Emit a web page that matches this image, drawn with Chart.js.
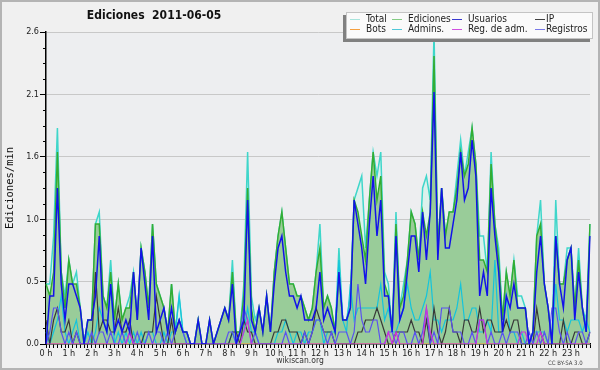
<!DOCTYPE html>
<html><head><meta charset="utf-8">
<script src="https://cdn.jsdelivr.net/npm/chart.js@4.4.1/dist/chart.umd.min.js"></script>
<style>
html,body{margin:0;padding:0;background:#f0f0f0;}
#wrap{position:relative;width:600px;height:370px;background:#f0f0f0;overflow:hidden;font-family:"DejaVu Sans Condensed","Liberation Sans",Arial,sans-serif;}
#c{position:absolute;left:0;top:0;}
#frame{position:absolute;left:0;top:0;width:600px;height:370px;box-sizing:border-box;border:2px solid #b4b4b4;pointer-events:none;}
#title{position:absolute;left:154px;top:8px;transform:translateX(-50%);font-weight:bold;font-size:12px;line-height:14px;color:#111;white-space:pre;}
#legend{position:absolute;left:346px;top:12px;width:247px;height:27px;box-sizing:border-box;background:#fafafa;border:1px solid #c4c4c4;box-shadow:-3px 3px 0 #808080;}
.sw{position:absolute;width:10px;height:0;border-top:1px solid #000;}
.lt{position:absolute;font-size:10px;line-height:10px;color:#222;white-space:nowrap;}
#site{position:absolute;left:300px;top:355px;transform:translateX(-50%);font-size:8.5px;line-height:10px;color:#333;}
#cc{position:absolute;left:548px;top:359px;font-size:6px;line-height:7px;color:#444;white-space:nowrap;}
</style>
</head><body>
<div id="wrap">
<canvas id="c" width="600" height="370"></canvas>
<div id="title">Ediciones  2011-06-05</div>
<div id="legend"></div>
<div id="site">wikiscan.org</div>
<div id="cc">CC BY-SA 3.0</div>
<div id="frame"></div>
</div>
<script>
// ---- tick labels ----
const hourLabels = ['0 h','1 h','2 h','3 h','4 h','5 h','6 h','7 h','8 h','9 h','10 h','11 h',
  '12 h','13 h','14 h','15 h','16 h','17 h','18 h','19 h','20 h','21 h','22 h','23 h'];
const yTickValues = [0, 0.52, 1.04, 1.56, 2.08, 2.6];
const yTickLabels = ['0.0','0.5','1.0','1.6','2.1','2.6'];

// ---- categories: 10-minute buckets ----
const categories = [];
for (let h = 0; h < 24; h++) for (let m = 0; m < 60; m += 10) categories.push(h + ':' + (m < 10 ? '0' : '') + m);

// ---- series (edits per minute) ----
const total = [
 .5,.5,.9,1.8,.6,.4, .7,.5,.6,.3,0,.2,
 .2,1.0,1.1,.4,.3,.7, .2,.5,.2,.3,.4,.6,
 .2,.8,.6,.3,1.0,.5, .4,.3,.1,.5,.1,.4,
 .1,.1,0,0,.2,0, 0,.2,0,.1,.2,.3,
 .2,.7,.1,.1,.5,1.6, .4,.2,.3,.1,.4,.1,
 .6,.9,1.1,.8,.5,.5, .4,.4,.3,.2,.3,.6,
 1.0,.3,.4,.3,.1,.8, .2,.2,.4,1.2,1.3,1.4,
 .8,1.2,1.6,1.4,1.6,.6, .5,.1,1.1,.3,.5,.7,
 1.1,1.0,.7,1.3,1.4,1.2, 2.6,.8,1.3,.9,1.1,1.1,
 1.4,1.7,1.4,1.6,1.8,1.5, .9,.9,.6,1.6,1.0,.8,
 .2,.6,.4,.7,.4,.4, .3,0,.1,.9,1.2,.5,
 .3,0,1.2,.5,.5,.8, .8,.3,.8,.3,.2,1.0];
const ediciones = [
 .5,.4,.6,1.6,.6,.3, .7,.5,.5,.3,0,.2,
 .2,1.0,1.0,.4,.3,.6, .2,.5,.2,.3,.3,.6,
 .2,.8,.6,.3,1.0,.5, .4,.3,.1,.5,.1,.2,
 .1,.1,0,0,.2,0, 0,.2,0,.1,.2,.3,
 .2,.6,.1,.1,.4,1.3, .3,.1,.3,.1,.4,.1,
 .6,.9,1.1,.8,.5,.5, .4,.4,.3,.2,.3,.6,
 .8,.3,.4,.3,.1,.6, .2,.2,.3,1.2,1.1,.9,
 .7,1.2,1.6,1.2,1.4,.5, .4,.1,1.0,.3,.4,.7,
 1.1,1.0,.7,1.1,.9,1.1, 2.4,.8,1.3,.9,1.1,1.1,
 1.3,1.6,1.4,1.5,1.8,1.5, .7,.7,.6,1.5,1.0,.7,
 .2,.6,.4,.7,.3,.3, .3,0,.1,.9,1.0,.5,
 .3,0,.9,.5,.5,.7, .8,.3,.7,.3,.1,1.0];
const usuarios = [
 0,.4,.4,1.3,.5,.2, .5,.5,.4,.3,0,.2,
 .2,.4,.9,.2,.1,.5, .1,.2,.1,.2,.1,.6,
 .2,.8,.5,.2,.9,.1, .2,.3,.1,.3,.1,.2,
 .1,.1,0,0,.2,0, 0,.2,0,.1,.2,.3,
 .2,.5,0,.1,.2,1.2, .2,.1,.3,.1,.4,.1,
 .5,.8,.9,.6,.4,.4, .3,.4,.2,.2,.2,.3,
 .6,.2,.3,.2,.1,.6, .2,.2,.3,1.2,1.0,.8,
 .5,1.0,1.4,.9,1.2,.4, .4,.1,.9,.2,.3,.6,
 .9,.9,.6,1.1,.7,1.1, 2.1,.7,1.3,.8,.8,1.0,
 1.2,1.6,1.2,1.3,1.7,1.4, .4,.6,.4,1.3,.9,.6,
 .1,.4,.3,.5,.3,.3, .3,0,.1,.6,.9,.5,
 .3,0,.9,.5,.3,.7, .8,.2,.6,.3,.1,.9];
const ip = [
 .2,0,.2,.3,.1,.1, .2,0,.1,0,0,0,
 0,.6,.1,.2,.2,.1, .1,.3,.1,.1,.2,0,
 0,0,.1,.1,.1,.4, .2,0,0,.2,0,0,
 0,0,0,0,0,0, 0,0,0,0,0,0,
 0,.1,.1,0,.2,.1, .1,0,0,0,0,0,
 .1,.1,.2,.2,.1,.1, .1,0,.1,0,.1,.3,
 .2,.1,.1,.1,0,0, 0,0,0,0,.1,.1,
 .2,.2,.2,.3,.2,.1, 0,0,.1,.1,.1,.1,
 .2,.1,.1,0,.2,0, .3,.1,0,.1,.3,.1,
 .1,0,.2,.2,.1,.1, .3,.1,.2,.2,.1,.1,
 .1,.2,.1,.2,.2,0, 0,0,0,.3,.1,0,
 0,0,0,0,.2,0, 0,.1,.1,0,0,.1];
const bots = [
 0,0,0,0,0,0, 0,0,0,0,0,0,
 0,0,0,0,0,0, 0,0,0,0,0,0,
 0,0,0,0,0,0, 0,0,0,0,0,0,
 0,0,0,0,0,0, 0,0,0,0,0,0,
 0,0,0,0,0,0, 0,0,0,0,0,0,
 0,0,0,0,0,0, 0,0,0,0,0,0,
 0,0,0,0,0,0, 0,0,0,0,0,0,
 0,0,0,0,0,0, 0,0,0,0,0,0,
 0,0,0,0,0,0, 0,0,0,0,0,0,
 0,0,0,0,0,0, 0,0,0,0,0,0,
 0,0,0,0,0,0, 0,0,0,0,0,0,
 0,0,0,0,0,0, 0,0,0,0,0,0];
const admins = [
 .1,0,.1,.2,.4,.1, 0,.1,.2,0,0,.1,
 0,.1,.3,.2,.1,.5, 0,.1,0,.1,0,.1,
 0,.1,0,.1,.1,0, 0,.1,0,.1,.1,.4,
 .1,0,0,0,0,0, 0,0,0,0,0,0,
 0,.1,0,0,.1,.3, .1,.1,0,0,0,0,
 0,.1,.1,.2,.1,0, .1,.1,0,.1,.1,.2,
 .2,0,.1,.1,.1,.7, .2,.1,.5,.2,.3,.3,
 .3,.3,.3,.3,.5,.2, .3,.1,.1,.2,.3,.5,
 .3,.2,.2,.3,.4,.6, .2,.2,.1,.2,.2,.2,
 .3,.5,.2,.2,.3,.3, .1,.1,.2,.1,.7,.1,
 .1,.4,.1,.1,0,.1, 0,0,.1,.1,.1,.1,
 0,0,.5,.2,.2,.1, .2,.2,.2,.1,.2,.1];
const regAdm = [
 0,0,0,0,0,0, 0,0,0,0,0,0,
 0,0,0,0,0,0, 0,0,0,0,.1,0,
 0,0,0,0,0,0, 0,0,0,0,0,0,
 0,0,0,0,0,0, 0,0,0,0,0,0,
 0,0,0,0,.1,.2, 0,0,0,0,0,0,
 0,0,0,0,0,0, 0,0,0,0,0,0,
 0,0,0,0,0,0, 0,0,0,0,0,0,
 0,0,0,0,0,0, .1,0,.1,0,0,0,
 0,0,0,0,.3,.1, 0,0,0,0,0,0,
 0,0,0,0,0,0, .2,.2,0,0,0,0,
 0,0,0,0,0,.1, .1,0,0,0,.1,0,
 0,0,0,0,0,0, 0,0,0,0,0,0];
const registros = [
 0,.1,.3,.3,.1,0, .1,0,.1,0,0,0,
 .1,0,.1,.1,0,.1, 0,0,.1,0,.1,0,
 .1,0,0,.1,0,.1, .1,0,.1,0,.1,.2,
 .1,0,0,0,0,0, 0,0,0,0,0,0,
 .1,.1,0,.1,.3,.2, 0,.1,0,0,0,0,
 0,0,0,.1,0,0, 0,0,.1,0,.1,.2,
 .2,.1,0,.1,0,.1, .1,.1,0,.1,.5,.2,
 .1,.1,.2,.2,0,0, .1,.1,0,.1,.1,0,
 0,.1,0,.1,.3,0, .1,0,.3,.3,.3,.1,
 .1,.1,0,0,.1,0, .2,.2,0,.1,0,0,
 .1,0,.1,.1,.1,0, 0,.1,0,.1,0,.1,
 0,.3,.3,.1,0,.1, 0,0,.1,.1,0,.1];

// ---- series styling (legend order: row 1 then row 2) ----
const series = [
  {label:'Total',        data:total,     color:'#3fd6ca', legend:'#a8e4dc', fill:'#dcf1ec', width:1.5, order:8},
  {label:'Ediciones',    data:ediciones, color:'#33ad33', legend:'#84cc84', fill:'#99cc99', width:1.5, order:7},
  {label:'Usuarios',     data:usuarios,  color:'#1212ea', legend:'#3a3ad0', fill:null, width:1.5, order:1},
  {label:'IP',           data:ip,        color:'#383838', legend:'#404040', fill:null, width:1.2, order:4},
  {label:'Bots',         data:bots,      color:'#ff9933', legend:'#f5a040', fill:null, width:1.2, order:6},
  {label:'Admins.',      data:admins,    color:'#14c4dc', legend:'#50c8d8', fill:null, width:1.2, order:5},
  {label:'Reg. de adm.', data:regAdm,    color:'#cc33dd', legend:'#d050e0', fill:null, width:1.2, order:2},
  {label:'Registros',    data:registros, color:'#5a52f0', legend:'#7878e8', fill:null, width:1.2, order:3}
];

const FONT = '"DejaVu Sans Condensed", "Liberation Sans", Arial, sans-serif';

const datasets = series.map(s => ({
  label: s.label, data: s.data, borderColor: s.color, borderWidth: s.width,
  backgroundColor: s.fill || s.color, fill: s.fill ? 'origin' : false,
  pointRadius: 0, tension: 0, order: s.order
}));

const bgPlugin = {id:'plotbg', beforeDraw(chart){
  const {ctx, chartArea:a} = chart; ctx.save(); ctx.fillStyle = '#edeef0';
  ctx.fillRect(a.left, a.top, a.right - a.left, a.bottom - a.top); ctx.restore(); }};
const minorTicks = {id:'minorticks', afterDraw(chart){
  const s = chart.scales.y, ctx = chart.ctx; ctx.save(); ctx.strokeStyle = '#000'; ctx.lineWidth = 1;
  for (let k = 0; k < yTickValues.length - 1; k++) {
    const v0 = yTickValues[k], v1 = yTickValues[k+1];
    for (let j = 1; j < 4; j++) {
      const y = Math.round(s.getPixelForValue(v0 + (v1 - v0) * j / 4)) + 0.5;
      ctx.beginPath(); ctx.moveTo(s.right - 3, y); ctx.lineTo(s.right, y); ctx.stroke();
    }
  }
  ctx.restore(); }};

new Chart(document.getElementById('c'), {
  type: 'line',
  data: { labels: categories, datasets },
  options: {
    responsive: false, animation: false, devicePixelRatio: 1,
    layout: { padding: { top: 32, right: 10, left: 0, bottom: 0 } },
    plugins: { legend: { display: false }, title: { display: false }, tooltip: { enabled: false } },
    scales: {
      x: {
        type: 'category', z: 1,
        afterFit(s){ s.height = 26; },
        ticks: { autoSkip: false, maxRotation: 0, minRotation: 0, padding: 0,
          callback: (v, i) => (i % 6 === 0 ? hourLabels[i / 6] : ''),
          font: { family: FONT, size: 9 }, color: '#222' },
        grid: { drawOnChartArea: false, drawTicks: true, tickLength: 4, tickColor: '#000', offset: false },
        border: { display: true, color: '#000', width: 1.5 }
      },
      y: {
        type: 'linear', min: 0, max: 2.6,
        afterFit(s){ s.width = 46; },
        afterBuildTicks(s){ s.ticks = yTickValues.map(v => ({ value: v })); },
        ticks: { autoSkip: false, padding: 1, callback: (v, i) => yTickLabels[i],
          font: { family: FONT, size: 9 }, color: '#222' },
        grid: { color: c => (c.index === 0 ? 'rgba(0,0,0,0)' : '#c8c8c8'), lineWidth: 1,
          drawTicks: true, tickLength: 6, tickColor: '#000' },
        border: { display: true, color: '#000', width: 1.5 },
        title: { display: true, text: 'Ediciones/min', color: '#111',
          font: { family: '"DejaVu Sans Mono", monospace', size: 10.5 }, padding: { top: 4, bottom: 0 } }
      }
    }
  },
  plugins: [bgPlugin, minorTicks]
});

// ---- legend (HTML, 4 columns x 2 rows) ----
const legendEl = document.getElementById('legend');
const colLine = [3, 45, 105, 188], colText = [19, 61, 121, 199], rowY = [6, 16];
series.forEach((s, k) => {
  const col = k % 4, row = Math.floor(k / 4);
  const sw = document.createElement('div'); sw.className = 'sw';
  sw.style.left = colLine[col] + 'px'; sw.style.top = rowY[row] + 'px'; sw.style.borderTopColor = s.legend;
  const t = document.createElement('div'); t.className = 'lt'; t.textContent = s.label;
  t.style.left = colText[col] + 'px'; t.style.top = (rowY[row] - 5) + 'px';
  legendEl.appendChild(sw); legendEl.appendChild(t);
});
</script>
</body></html>
